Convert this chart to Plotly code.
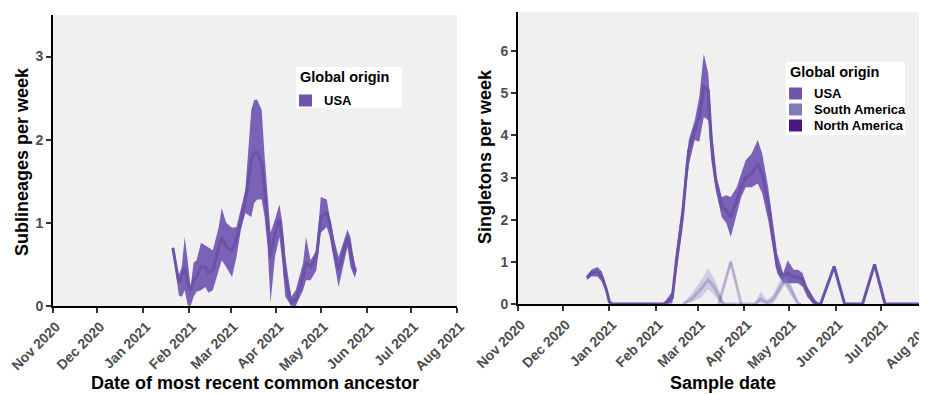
import plotly.graph_objects as go

# ---------------- data ----------------
month_ticks = ['2020-11-01', '2020-12-01', '2021-01-01', '2021-02-01', '2021-03-01',
               '2021-04-01', '2021-05-01', '2021-06-01', '2021-07-01', '2021-08-01']
month_labels = ['Nov 2020', 'Dec 2020', 'Jan 2021', 'Feb 2021', 'Mar 2021',
                'Apr 2021', 'May 2021', 'Jun 2021', 'Jul 2021', 'Aug 2021']

# Left panel: sublineages per week (USA origin)
sub_dates = ['2021-01-21', '2021-01-25', '2021-01-27', '2021-01-29', '2021-01-31', '2021-02-02',
             '2021-02-04', '2021-02-06', '2021-02-09', '2021-02-12', '2021-02-14', '2021-02-17',
             '2021-02-21', '2021-02-23', '2021-02-26', '2021-03-02', '2021-03-05', '2021-03-08',
             '2021-03-11', '2021-03-15', '2021-03-17', '2021-03-19', '2021-03-22', '2021-03-24',
             '2021-03-26', '2021-03-28', '2021-03-31', '2021-04-03', '2021-04-05', '2021-04-07',
             '2021-04-11', '2021-04-14', '2021-04-19', '2021-04-21', '2021-04-24', '2021-04-28',
             '2021-05-01', '2021-05-05', '2021-05-07', '2021-05-10', '2021-05-13', '2021-05-17',
             '2021-05-19', '2021-05-21', '2021-05-24', '2021-05-25']
sub_upper = [0.71, 0.37, 0.47, 0.83, 0.55, 0.23, 0.52, 0.55, 0.76, 0.73, 0.71, 0.67,
             0.95, 1.18, 1.00, 0.94, 0.95, 1.19, 1.40, 2.36, 2.48, 2.48, 2.36, 1.80,
             1.28, 0.88, 1.04, 1.22, 1.00, 0.59, 0.11, 0.19, 0.52, 0.83, 0.55, 0.67,
             1.31, 1.28, 1.07, 0.80, 0.59, 0.83, 0.92, 0.83, 0.47, 0.46]
sub_mid = [0.70, 0.28, 0.35, 0.47, 0.28, 0.19, 0.31, 0.35, 0.47, 0.47, 0.40, 0.43,
           0.71, 0.83, 0.71, 0.67, 0.80, 1.04, 1.25, 1.76, 1.84, 1.84, 1.72, 1.40,
           1.00, 0.59, 0.88, 1.04, 0.80, 0.35, 0.04, 0.07, 0.35, 0.52, 0.47, 0.59,
           1.07, 1.12, 1.00, 0.67, 0.43, 0.71, 0.83, 0.67, 0.43, 0.43]
sub_lower = [0.67, 0.13, 0.11, 0.19, 0.01, 0.00, 0.11, 0.17, 0.19, 0.23, 0.16, 0.19,
             0.43, 0.55, 0.47, 0.35, 0.59, 0.92, 1.12, 1.07, 1.24, 1.28, 1.28, 1.07,
             0.71, 0.04, 0.59, 0.83, 0.52, 0.11, 0.00, 0.00, 0.19, 0.31, 0.31, 0.43,
             0.88, 0.95, 0.83, 0.55, 0.23, 0.55, 0.71, 0.47, 0.34, 0.41]

# Right panel: singletons per week, USA origin
usa_dates = ['2020-12-17', '2020-12-20', '2020-12-24', '2020-12-27', '2020-12-30', '2021-01-01',
             '2021-01-03', '2021-02-06', '2021-02-08', '2021-02-12', '2021-02-15', '2021-02-19',
             '2021-02-21', '2021-02-23', '2021-02-27', '2021-03-02', '2021-03-05', '2021-03-08',
             '2021-03-10', '2021-03-13', '2021-03-17', '2021-03-20', '2021-03-23', '2021-03-27',
             '2021-03-30', '2021-04-02', '2021-04-06', '2021-04-10', '2021-04-13', '2021-04-17',
             '2021-04-20', '2021-04-23', '2021-04-27', '2021-04-30', '2021-05-04', '2021-05-07',
             '2021-05-10', '2021-05-13', '2021-05-17', '2021-05-20', '2021-05-22', '2021-05-31',
             '2021-06-07', '2021-06-19', '2021-06-27', '2021-07-04', '2021-08-01']
usa_upper = [0.68, 0.81, 0.88, 0.77, 0.42, 0.10, 0.00, 0.00, 0.10, 0.30, 1.36, 2.46,
             3.30, 3.89, 4.36, 4.91, 5.94, 5.47, 4.28, 3.10, 2.54, 2.58, 2.54, 2.77,
             3.10, 3.41, 3.57, 3.89, 3.57, 2.77, 1.99, 1.20, 0.73, 1.04, 0.81, 0.81,
             0.73, 0.41, 0.17, 0.00, 0.00, 0.92, 0.00, 0.00, 0.97, 0.00, 0.00]
usa_mid = [0.62, 0.73, 0.76, 0.65, 0.34, 0.05, 0.00, 0.00, 0.04, 0.15, 1.12, 2.15,
           2.94, 3.65, 4.12, 4.44, 5.15, 5.07, 3.89, 2.94, 2.30, 2.23, 2.06, 2.46,
           2.77, 3.00, 3.10, 3.34, 3.10, 2.39, 1.68, 0.88, 0.64, 0.73, 0.64, 0.64,
           0.57, 0.33, 0.08, 0.00, 0.00, 0.89, 0.00, 0.00, 0.94, 0.00, 0.00]
usa_lower = [0.57, 0.65, 0.65, 0.53, 0.26, 0.00, 0.00, 0.00, 0.00, 0.02, 0.80, 1.83,
             2.70, 3.30, 3.89, 3.85, 4.44, 4.36, 3.41, 2.70, 2.06, 1.92, 1.59, 2.15,
             2.54, 2.77, 2.77, 2.86, 2.63, 1.99, 1.36, 0.73, 0.49, 0.49, 0.49, 0.49,
             0.41, 0.17, 0.00, 0.00, 0.00, 0.86, 0.00, 0.00, 0.91, 0.00, 0.00]

# Right panel: South America origin
sa_dates = ['2021-02-19', '2021-02-25', '2021-03-03', '2021-03-08', '2021-03-12', '2021-03-17',
            '2021-03-19', '2021-04-08', '2021-04-12', '2021-04-16', '2021-04-20', '2021-04-24',
            '2021-04-28', '2021-05-02', '2021-05-07', '2021-05-09']
sa_upper = [0.00, 0.25, 0.55, 0.85, 0.60, 0.15, 0.00, 0.00, 0.30, 0.10, 0.20, 0.50, 0.73, 0.50, 0.05, 0.00]
sa_mid = [0.00, 0.12, 0.35, 0.57, 0.40, 0.05, 0.00, 0.00, 0.12, 0.03, 0.10, 0.35, 0.57, 0.35, 0.00, 0.00]
sa_lower = [0.00, 0.05, 0.15, 0.35, 0.20, 0.00, 0.00, 0.00, 0.02, 0.00, 0.00, 0.20, 0.45, 0.20, 0.00, 0.00]

# Right panel: North America origin
na_dates = ['2021-03-15', '2021-03-23', '2021-03-30']
na_upper = [0.00, 1.05, 0.00]
na_mid = [0.00, 1.00, 0.00]
na_lower = [0.00, 0.95, 0.00]

# legend entries
left_legend_names = ['USA']
left_legend_colors = ['#6f56a9']
right_legend_names = ['USA', 'South America', 'North America']
right_legend_colors = ['#6f56a9', '#807dba', '#4a1486']

# ---------------- styling ----------------
W, H = 919, 386          # page body has an 8px margin
FONT = 'Liberation Sans, Arial, Helvetica, sans-serif'
USA_FILL = 'rgb(124,98,182)'
USA_LINE = 'rgb(108,82,166)'
SA_FILL = 'rgba(128,125,186,0.30)'
SA_LINE = 'rgba(128,125,186,0.45)'
NA_FILL = 'rgba(84,39,143,0.22)'
NA_LINE = 'rgba(84,39,143,0.28)'


def px(x):
    return x / W


def py(y):
    return 1 - y / H


fig = go.Figure()


def ribbon(x, lo, mid, up, fillc, linec, xa, ya, name, lw=3):
    fig.add_trace(go.Scatter(x=x, y=lo, mode='lines', line=dict(width=0, color=fillc),
                             showlegend=False, hoverinfo='skip', xaxis=xa, yaxis=ya))
    fig.add_trace(go.Scatter(x=x, y=up, mode='lines', line=dict(width=0, color=fillc),
                             fill='tonexty', fillcolor=fillc, showlegend=False,
                             hoverinfo='skip', xaxis=xa, yaxis=ya))
    fig.add_trace(go.Scatter(x=x, y=mid, mode='lines', line=dict(width=lw, color=linec),
                             name=name, showlegend=False, xaxis=xa, yaxis=ya))


ribbon(sub_dates, sub_lower, sub_mid, sub_upper, USA_FILL, USA_LINE, 'x', 'y', 'USA')
ribbon(usa_dates, usa_lower, usa_mid, usa_upper, USA_FILL, USA_LINE, 'x2', 'y2', 'USA')
ribbon(sa_dates, sa_lower, sa_mid, sa_upper, SA_FILL, SA_LINE, 'x2', 'y2', 'South America')
ribbon(na_dates, na_lower, na_mid, na_upper, NA_FILL, NA_LINE, 'x2', 'y2', 'North America')

tickfont = dict(family=FONT, size=14, color='#4d4d4d', weight='bold')
common_x = dict(range=['2020-11-01', '2021-08-01'], tickvals=month_ticks, ticktext=month_labels,
                tickangle=-45, tickfont=tickfont, showline=True, linecolor='black', linewidth=2,
                ticks='outside', ticklen=5, tickwidth=1.5, tickcolor='#333333',
                showgrid=False, zeroline=False, automargin=False, ticklabeloverflow='allow',
                ticklabelshift=3)
common_y = dict(tickfont=dict(family=FONT, size=14, color='#4d4d4d', weight='bold'),
                showline=True, linecolor='black', linewidth=2, ticks='outside', ticklen=5,
                tickwidth=1.5, tickcolor='#333333', showgrid=False, zeroline=False,
                automargin=False)

fig.update_layout(
    width=W, height=H,
    margin=dict(l=0, r=0, t=0, b=0),
    paper_bgcolor='white',
    plot_bgcolor='#f0f0f0',
    font=dict(family=FONT),
    showlegend=False,
    xaxis=dict(domain=[px(45), px(449)], anchor='y', **common_x),
    yaxis=dict(domain=[py(298), py(7)], anchor='x', range=[0, 3.5],
               tickvals=[0, 1, 2, 3], **common_y),
    xaxis2=dict(domain=[px(510), 1.0], anchor='y2', **common_x),
    yaxis2=dict(domain=[py(296), py(4)], anchor='x2', range=[0, 6.93],
                tickvals=[0, 1, 2, 3, 4, 5, 6], **common_y),
)

title_font = dict(family=FONT, size=18, color='black', weight='bold')
for txt, x, y, ang in [('Sublineages per week', 14, 154, -90),
                       ('Date of most recent common ancestor', 247, 375, 0),
                       ('Singletons per week', 477, 149, -90),
                       ('Sample date', 715, 375, 0)]:
    fig.add_annotation(text=txt, x=px(x), y=py(y), xref='paper', yref='paper', textangle=ang,
                       showarrow=False, font=title_font, xanchor='center', yanchor='middle')


# ---------------- legends (box, swatches, labels) ----------------
def draw_legend(box, title_xy, names, colors, sw_x, first_y, step, text_x):
    x0, y0, x1, y1 = box
    fig.add_shape(type='rect', xref='paper', yref='paper', x0=px(x0), x1=px(x1),
                  y0=py(y1), y1=py(y0), fillcolor='white', line=dict(width=0), layer='above')
    fig.add_annotation(text='Global origin', x=px(title_xy[0]), y=py(title_xy[1]),
                       xref='paper', yref='paper', showarrow=False, xanchor='left',
                       yanchor='middle',
                       font=dict(family=FONT, size=14.5, color='black', weight='bold'))
    for i, (nm, col) in enumerate(zip(names, colors)):
        cy = first_y + i * step
        fig.add_shape(type='rect', xref='paper', yref='paper', x0=px(sw_x), x1=px(sw_x + 13),
                      y0=py(cy + 6), y1=py(cy - 6), fillcolor=col, line=dict(width=0),
                      layer='above')
        fig.add_annotation(text=nm, x=px(text_x), y=py(cy), xref='paper', yref='paper',
                           showarrow=False, xanchor='left', yanchor='middle',
                           font=dict(family=FONT, size=13, color='black', weight='bold'))


draw_legend((288, 59, 394, 100), (290, 69), left_legend_names, left_legend_colors,
            291, 92.5, 16, 314)
draw_legend((778, 54, 897, 127), (780, 64), right_legend_names, right_legend_colors,
            781, 85.5, 16, 804)

fig.write_html('out.html')
